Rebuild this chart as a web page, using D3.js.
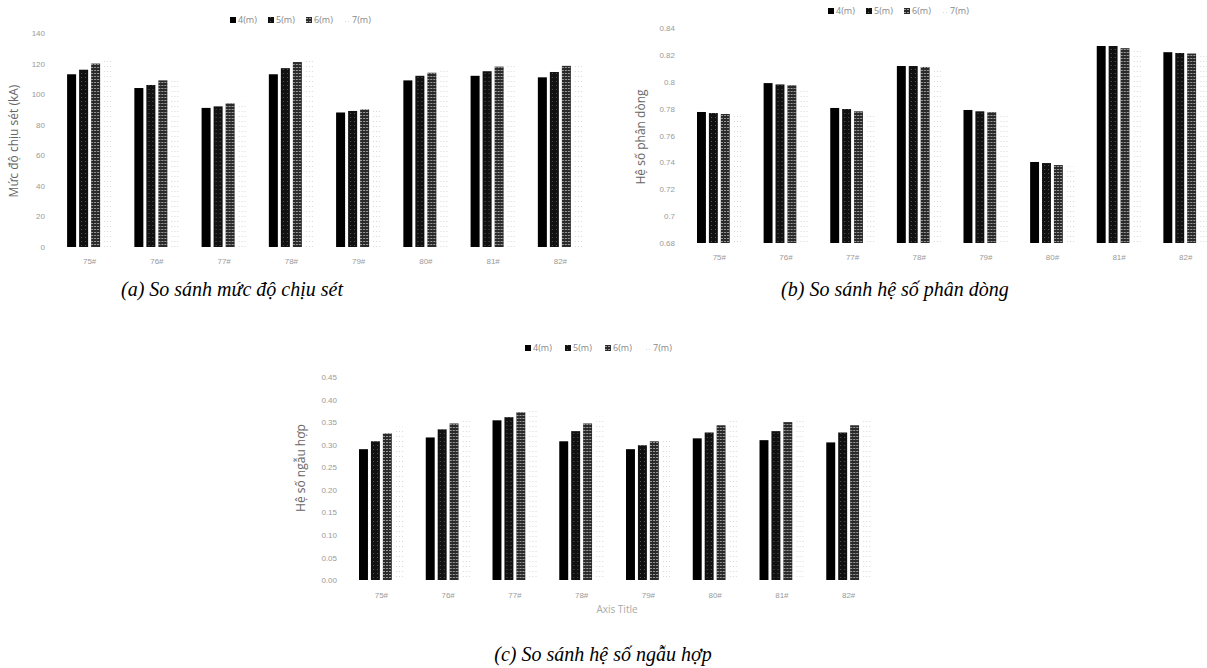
<!DOCTYPE html>
<html lang="vi">
<head>
<meta charset="utf-8">
<title>So sánh</title>
<script src="https://d3js.org/d3.v7.min.js"></script>
<style>
  body { margin: 0; background: #fff; }
  svg { display: block; }
  .tick text { fill: #9a9a9a; font-family: "Liberation Sans", sans-serif; font-size: 8px; }
  .ylabel { fill: #666; font-family: "Open Sans", sans-serif; font-size: 12px; }
  .legend text { fill: #888; font-family: "Open Sans", sans-serif; font-size: 9px; }
  .caption { fill: #000; font-family: "Liberation Serif", serif; font-style: italic; font-size: 20px; }
</style>
</head>
<body>
<svg id="chart" width="1207" height="668"></svg>
<script>
// categories and series
var categories = ["75#", "76#", "77#", "78#", "79#", "80#", "81#", "82#"];
var seriesNames = ["4(m)", "5(m)", "6(m)", "7(m)"];

// (a) muc do chiu set (kA)
var lightning4m = [113, 104, 91, 113, 88, 109, 112, 111];
var lightning5m = [116, 106, 92, 117, 89, 112, 115, 114.5];
var lightning6m = [120, 109, 94, 121, 90, 114, 118, 118.5];
var lightning7m = [122, 111, 95, 122, 91, 116, 120, 121];
var ticksA = [0, 20, 40, 60, 80, 100, 120, 140];

// (b) he so phan dong
var shunt4m = [0.7775, 0.799, 0.7805, 0.8117, 0.779, 0.7403, 0.8266, 0.822];
var shunt5m = [0.7767, 0.798, 0.7797, 0.8117, 0.778, 0.7395, 0.8266, 0.8214];
var shunt6m = [0.776, 0.7975, 0.778, 0.811, 0.7775, 0.738, 0.825, 0.821];
var shunt7m = [0.775, 0.796, 0.777, 0.810, 0.776, 0.737, 0.824, 0.820];
var ticksB = [0.68, 0.7, 0.72, 0.74, 0.76, 0.78, 0.8, 0.82, 0.84];

// (c) he so ngau hop
var coupling4m = [0.290, 0.316, 0.354, 0.3075, 0.290, 0.314, 0.310, 0.305];
var coupling5m = [0.3075, 0.334, 0.361, 0.330, 0.2987, 0.327, 0.330, 0.327];
var coupling6m = [0.325, 0.347, 0.372, 0.347, 0.3075, 0.343, 0.350, 0.343];
var coupling7m = [0.340, 0.360, 0.380, 0.362, 0.316, 0.356, 0.362, 0.356];
var ticksC = [0, 0.05, 0.1, 0.15, 0.2, 0.25, 0.3, 0.35, 0.4, 0.45];

var svg = d3.select("#chart");
var defs = svg.append("defs");

// textured fills, like the scanned print
var p5 = defs.append("pattern").attr("id", "p5").attr("patternUnits", "userSpaceOnUse")
    .attr("width", 4).attr("height", 4);
p5.append("rect").attr("width", 4).attr("height", 4).attr("fill", "#111");
p5.append("rect").attr("x", 2).attr("y", 1).attr("width", 1).attr("height", 1).attr("fill", "#555");

var p6 = defs.append("pattern").attr("id", "p6").attr("patternUnits", "userSpaceOnUse")
    .attr("width", 3).attr("height", 3);
p6.append("rect").attr("width", 3).attr("height", 3).attr("fill", "#2a2a2a");
p6.append("rect").attr("x", 0).attr("y", 1).attr("width", 2).attr("height", 1).attr("fill", "#9a9a9a");

// 7 m series is almost washed out in the scan
var p7 = defs.append("pattern").attr("id", "p7").attr("patternUnits", "userSpaceOnUse")
    .attr("width", 3).attr("height", 5);
p7.append("rect").attr("width", 3).attr("height", 5).attr("fill", "#fff");
p7.append("rect").attr("x", 1).attr("y", 1).attr("width", 1).attr("height", 1).attr("fill", "#d8d8d8");

var fills = ["#000", "url(#p5)", "url(#p6)", "url(#p7)"];

function drawPanel(cfg) {
    var g = svg.append("g");

    var x0 = d3.scaleBand().domain(categories).range(cfg.xRange)
        .paddingInner(0.33).paddingOuter(0.165);
    var x1 = d3.scaleBand().domain(seriesNames).range([0, x0.bandwidth()])
        .paddingInner(0.25);
    var y = d3.scaleLinear().domain(cfg.yDomain).range(cfg.yRange);

    var rows = categories.map(function(c, i) {
        return { cat: c, vals: cfg.series.map(function(s) { return s[i]; }) };
    });

    var groups = g.selectAll("g.grp").data(rows).enter().append("g")
        .attr("transform", function(d) { return "translate(" + x0(d.cat) + ",0)"; });

    groups.selectAll("rect").data(function(d) { return d.vals; }).enter().append("rect")
        .attr("x", function(d, i) { return x1(seriesNames[i]); })
        .attr("width", x1.bandwidth())
        .attr("y", function(d) { return y(d); })
        .attr("height", function(d) { return y(cfg.yDomain[0]) - y(d); })
        .attr("fill", function(d, i) { return fills[i]; });

    var yAxis = g.append("g")
        .attr("transform", "translate(" + cfg.yAxisX + ",0)")
        .call(d3.axisLeft(y).tickValues(cfg.ticks).tickSize(0).tickPadding(4).tickFormat(cfg.fmt));
    yAxis.select(".domain").remove();

    var xAxis = g.append("g")
        .attr("transform", "translate(0," + y(cfg.yDomain[0]) + ")")
        .call(d3.axisBottom(x0).tickSize(0).tickPadding(cfg.catPad));
    xAxis.select(".domain").remove();

    g.append("text").attr("class", "ylabel")
        .attr("transform", "translate(" + cfg.yLabel[0] + "," + cfg.yLabel[1] + ") rotate(-90)")
        .attr("text-anchor", "middle")
        .attr("dominant-baseline", "middle")
        .text(cfg.yTitle);

    var leg = g.append("g").attr("class", "legend")
        .attr("transform", "translate(" + cfg.legend[0] + "," + cfg.legend[1] + ")");
    var items = leg.selectAll("g").data(seriesNames).enter().append("g")
        .attr("transform", function(d, i) { return "translate(" + (i * cfg.legendStep) + ",0)"; });
    items.append("rect").attr("x", 0).attr("y", -3).attr("width", 6).attr("height", 6)
        .attr("fill", function(d, i) { return fills[i]; });
    items.append("text").attr("x", 8).attr("y", 0).attr("dy", "0.35em").text(function(d) { return d; });

    svg.append("text").attr("class", "caption")
        .attr("x", cfg.caption[0]).attr("y", cfg.caption[1])
        .attr("text-anchor", "middle")
        .text(cfg.captionText);

    return g;
}

drawPanel({
    series: [lightning4m, lightning5m, lightning6m, lightning7m],
    xRange: [56, 594], yDomain: [0, 140], yRange: [247, 33],
    ticks: ticksA, fmt: d3.format("d"), yAxisX: 49, catPad: 11,
    yTitle: "Mức độ chịu sét (kA)", yLabel: [15, 141],
    legend: [230, 20], legendStep: 38,
    captionText: "(a) So sánh mức độ chịu sét", caption: [232, 296]
});

drawPanel({
    series: [shunt4m, shunt5m, shunt6m, shunt7m],
    xRange: [686, 1219], yDomain: [0.68, 0.84], yRange: [243, 28],
    ticks: ticksB, fmt: function(d) { return String(+d.toFixed(2)); }, yAxisX: 679, catPad: 11,
    yTitle: "Hệ số phân dòng", yLabel: [642, 137],
    legend: [828, 11], legendStep: 38,
    captionText: "(b) So sánh hệ số phân dòng", caption: [895, 296]
});

var gc = drawPanel({
    series: [coupling4m, coupling5m, coupling6m, coupling7m],
    xRange: [348, 882], yDomain: [0, 0.45], yRange: [580, 377],
    ticks: ticksC, fmt: d3.format(".2f"), yAxisX: 341, catPad: 12,
    yTitle: "Hệ số ngẫu hợp", yLabel: [302, 468],
    legend: [525, 348], legendStep: 40,
    captionText: "(c) So sánh hệ số ngẫu hợp", caption: [603, 661]
});

gc.append("text")
    .attr("x", 617).attr("y", 613)
    .attr("text-anchor", "middle")
    .attr("fill", "#aaa")
    .style("font-family", "'Open Sans', sans-serif")
    .style("font-size", "10px")
    .text("Axis Title");
</script>
</body>
</html>
